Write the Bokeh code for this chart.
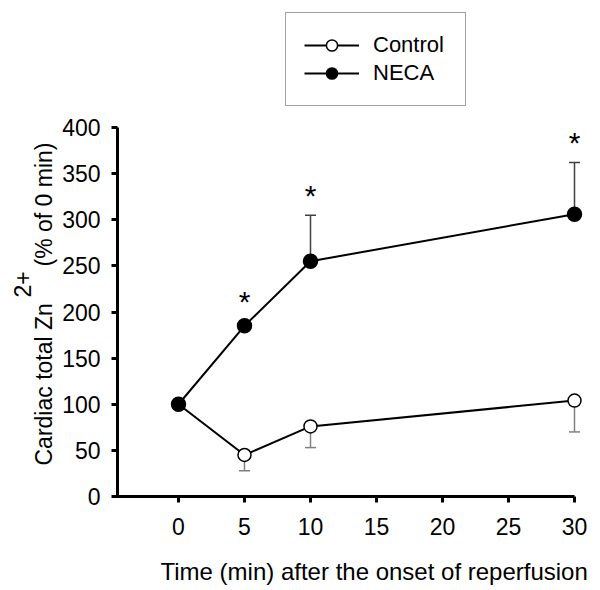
import math
from bokeh.plotting import figure
from bokeh.models import (ColumnDataSource, Label, Legend, LegendItem, Whisker,
                          FixedTicker, TeeHead, Range1d)
from bokeh.core.properties import value
from bokeh.embed import file_html
from bokeh.resources import INLINE

# ---- data ----
time_min = [0, 5, 10, 30]
control_mean = [100, 45, 76, 104]
control_lower = [100, 28, 53, 70]
neca_mean = [100, 185, 255, 306]
neca_err_x = [10, 30]
neca_err_low = [255, 306]
neca_err_high = [305, 362]
star_x = [5, 10, 30]
star_y = [215, 330, 387]
x_ticks = [0, 5, 10, 15, 20, 25, 30]
y_ticks = [0, 50, 100, 150, 200, 250, 300, 350, 400]

FONT = "Liberation Sans"
W, H = 600, 590
X0_PX, Y0_PX = 178, 496          # pixel position of the data origin
px_per_x = 13.2
px_per_y = 369 / 400.0
x_start = -X0_PX / px_per_x
x_end = (W - X0_PX) / px_per_x
y_start = -(H - Y0_PX) / px_per_y
y_end = Y0_PX / px_per_y
yaxis_x = (117 - X0_PX) / px_per_x

p = figure(width=W, height=H, output_backend="svg", toolbar_location=None,
           x_range=Range1d(x_start, x_end), y_range=Range1d(y_start, y_end),
           min_border=0)
p.outline_line_color = None
p.grid.visible = False
p.background_fill_color = "white"
p.border_fill_color = "white"

for ax, ticks in ((p.xaxis[0], x_ticks), (p.yaxis[0], y_ticks)):
    ax.ticker = FixedTicker(ticks=ticks)
    ax.minor_tick_line_color = None
    ax.axis_line_width = 3
    ax.axis_line_color = "black"
    ax.major_tick_line_width = 3
    ax.major_tick_line_color = "black"
    ax.major_tick_in = 0
    ax.major_tick_out = 6
    ax.major_label_text_font = FONT
    ax.major_label_text_font_size = "23px"
    ax.major_label_text_color = "black"
p.xaxis[0].fixed_location = 0
p.yaxis[0].fixed_location = yaxis_x
p.xaxis[0].bounds = (yaxis_x - 0.12, 30)
p.yaxis[0].bounds = (0, 400)
p.xaxis[0].major_label_standoff = 15
p.yaxis[0].major_label_standoff = 11

csrc = ColumnDataSource(dict(x=time_min, y=control_mean, lo=control_lower))
nsrc = ColumnDataSource(dict(x=time_min, y=neca_mean))
esrc = ColumnDataSource(dict(x=neca_err_x, lo=neca_err_low, hi=neca_err_high))

wc = Whisker(source=csrc, base="x", lower="lo", upper="y", upper_head=None,
             lower_head=TeeHead(size=11, line_color="#808080", line_width=1.5),
             line_color="#808080", line_width=1.5, level="underlay")
wn = Whisker(source=esrc, base="x", lower="lo", upper="hi", lower_head=None,
             upper_head=TeeHead(size=11, line_color="#404040", line_width=1.5),
             line_color="#404040", line_width=1.5, level="underlay")
p.add_layout(wc)
p.add_layout(wn)

cl = p.line("x", "y", source=csrc, line_color="black", line_width=2)
nl = p.line("x", "y", source=nsrc, line_color="black", line_width=2)
cs = p.scatter("x", "y", source=csrc, size=13, fill_color="white",
               line_color="black", line_width=1.5)
ns = p.scatter("x", "y", source=nsrc, size=14, fill_color="black",
               line_color="black", line_width=1.5)

p.text(x=star_x, y=star_y, text=["*"] * len(star_x), text_font=value(FONT),
       text_font_size="30px", text_align="center", text_baseline="middle",
       y_offset=3, text_color="black")

legend = Legend(items=[LegendItem(label="Control", renderers=[cl, cs]),
                       LegendItem(label="NECA", renderers=[nl, ns])],
                location=(285, 484), margin=0)
legend.border_line_color = "#444444"
legend.border_line_width = 1
legend.background_fill_alpha = 1
legend.label_text_font = FONT
legend.label_text_font_size = "22px"
legend.label_text_color = "black"
legend.glyph_width = 55
legend.glyph_height = 28
legend.label_height = 28
legend.spacing = 0
legend.padding = 18
legend.label_standoff = 14
legend.label_width = 74
p.add_layout(legend)

lab_kw = dict(x_units="screen", y_units="screen", text_font=FONT,
              text_color="black", text_align="left", text_baseline="alphabetic")
p.add_layout(Label(x=43, y=125, text="Cardiac total Zn", angle=math.pi / 2,
                   text_font_size="23px", **lab_kw))
p.add_layout(Label(x=22, y=293, text="2+", angle=math.pi / 2,
                   text_font_size="23px", **lab_kw))
p.add_layout(Label(x=43, y=324, text="(% of 0 min)", angle=math.pi / 2,
                   text_font_size="23px", **lab_kw))
p.add_layout(Label(x=160, y=19, text="Time (min) after the onset of reperfusion",
                   text_font_size="24px", **lab_kw))

open("out.html", "w").write(file_html(p, INLINE))
